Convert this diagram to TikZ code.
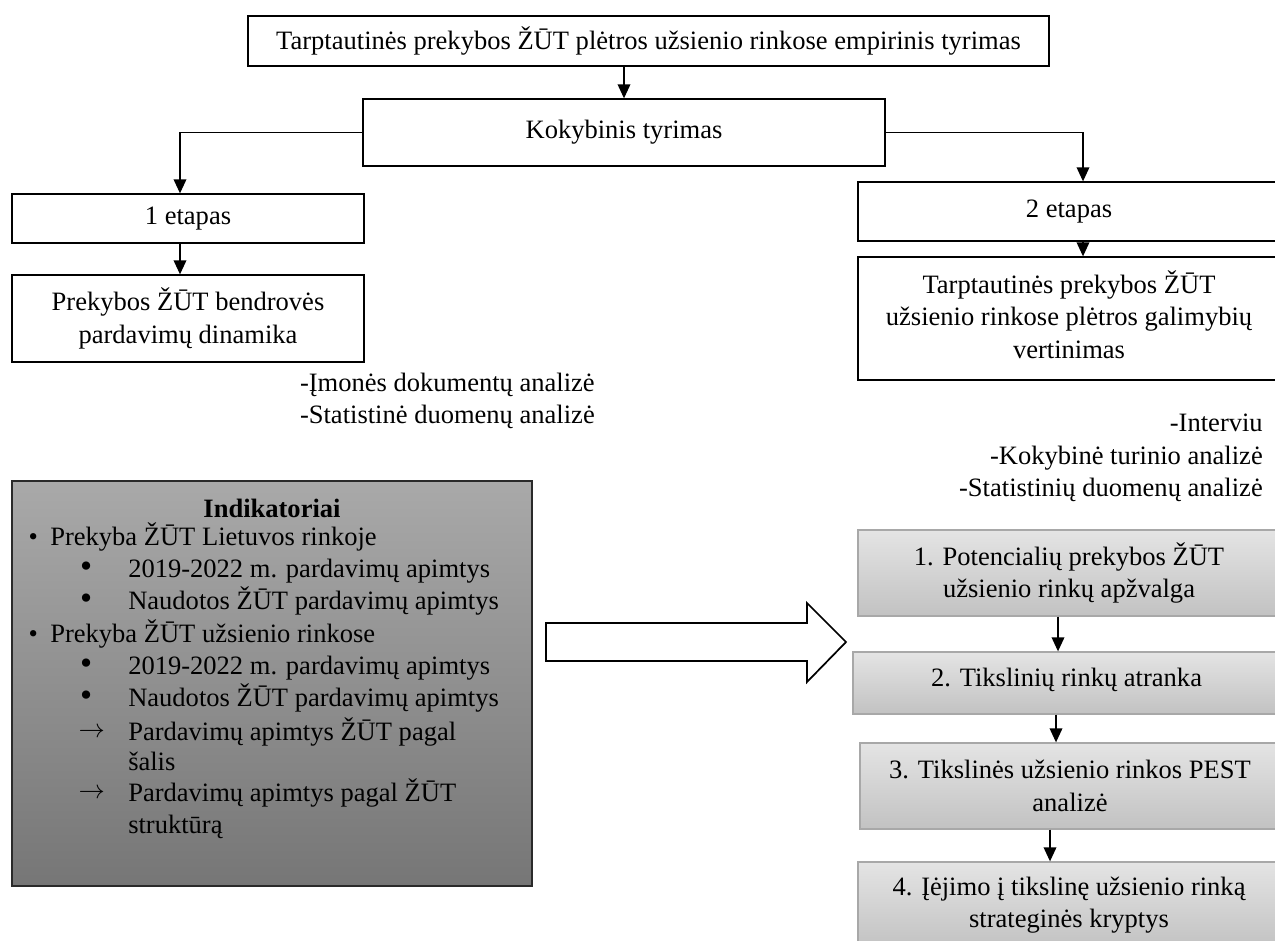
\documentclass[tikz,border=0pt]{standalone}
\usepackage{fontspec}
\setmainfont{Liberation Serif}
\usetikzlibrary{arrows.meta,fit}
\definecolor{lgtop}{HTML}{E4E4E4}
\definecolor{lgbot}{HTML}{C2C2C2}
\definecolor{lgline}{HTML}{A8A8A8}
\definecolor{dgtop}{HTML}{A9A9A9}
\definecolor{dgbot}{HTML}{767676}
\definecolor{dgline}{HTML}{2A2A2A}
\tikzset{
  txt/.style={font=\fontsize{19.9pt}{24.3pt}\selectfont, inner sep=0pt},
  ctxt/.style={txt, align=center},
  plainbox/.style={draw=black, line width=1pt, fill=white, inner sep=0pt},
  lightbox/.style={draw=lgline, line width=1pt, top color=lgtop, bottom color=lgbot, inner sep=0pt},
  darkbox/.style={draw=dgline, line width=1.5pt, top color=dgtop, bottom color=dgbot, inner sep=0pt},
  arr/.style={line width=1pt, -{Triangle[length=10.5pt,width=9.5pt]}},
  bigarrow/.style={draw=black, line width=1.3pt, fill=white, line join=miter},
  dtxt/.style={txt, anchor=mid west}
}
\newcommand{\blt}{\llap{\raisebox{-0.5pt}{\scalebox{1.3}{•}}\hspace{27pt}}}
\newcommand{\arw}{\llap{\raisebox{2pt}{\scalebox{0.95}{$\rightarrow$}}\hspace{17.5pt}}}
\begin{document}
\begin{tikzpicture}[x=0.75pt,y=-0.75pt]
\path[use as bounding box] (0,0) rectangle (1275,940);
\clip (0,0) rectangle (1275,940);

% top boxes
\node[plainbox, fit={(248,16) (1049,66)}] (top) {};
\node[ctxt] (topt) at (top.center) {Tarptautinės prekybos ŽŪT plėtros užsienio rinkose empirinis tyrimas};
\node[plainbox, fit={(363,99) (885,166)}] (kok) {};
\node[ctxt] (kokt) at (kok.center) {Kokybinis tyrimas};

% left branch
\node[plainbox, fit={(12,194) (364,243)}] (et1) {};
\node[ctxt] (et1t) at (et1.center) {1 etapas};
\node[plainbox, fit={(12,275) (364,362)}] (prek) {};
\node[ctxt] (prekt) at (prek.center) {Prekybos ŽŪT bendrovės\\pardavimų dinamika};
\node[txt, align=left, anchor=east] (llab) at (595,401) {-Įmonės dokumentų analizė\\-Statistinė duomenų analizė};

% right branch
\node[plainbox, fit={(858,182) (1280,241)}] (et2) {};
\node[ctxt] (et2t) at (et2.center) {2 etapas};
\node[plainbox, fit={(858,257) (1280,380)}] (tarp) {};
\node[ctxt] (tarpt) at ([yshift=3pt]tarp.center) {Tarptautinės prekybos ŽŪT\\užsienio rinkose plėtros galimybių\\vertinimas};
\node[txt, align=right, anchor=east] (rlab) at (1263,458) {-Interviu\\-Kokybinė turinio analizė\\-Statistinių duomenų analizė};

% right gray chain
\node[lightbox, fit={(858,530) (1280,616)}] (b1) {};
\node[ctxt] (b1t) at (b1.center) {1. Potencialių prekybos ŽŪT\\užsienio rinkų apžvalga};
\node[lightbox, fit={(853,652) (1280,714)}] (b2) {};
\node[ctxt] (b2t) at ([yshift=2pt]b2.center) {2. Tikslinių rinkų atranka};
\node[lightbox, fit={(860,743) (1280,829)}] (b3) {};
\node[ctxt] (b3t) at (b3.center) {3. Tikslinės užsienio rinkos PEST\\analizė};
\node[lightbox, fit={(858,862) (1280,948)}] (b4) {};
\node[ctxt] (b4t) at (1069,905) {4. Įėjimo į tikslinę užsienio rinką\\strateginės kryptys};

% dark indicator box
\node[darkbox, fit={(12,481) (532,886)}] (ind) {};
\node[txt, font=\fontsize{19.9pt}{24.3pt}\selectfont\bfseries] (i0) at (272,508) {Indikatoriai};
\node[dtxt] (i1) at (50,542) {\llap{•\hspace{9.3pt}}Prekyba ŽŪT Lietuvos rinkoje};
\node[dtxt] (i2) at (128,574) {\blt 2019-2022 m. pardavimų apimtys};
\node[dtxt] (i3) at (128,606) {\blt Naudotos ŽŪT pardavimų apimtys};
\node[dtxt] (i4) at (50,639) {\llap{•\hspace{9.3pt}}Prekyba ŽŪT užsienio rinkose};
\node[dtxt] (i5) at (128,671) {\blt 2019-2022 m. pardavimų apimtys};
\node[dtxt] (i6) at (128,703) {\blt Naudotos ŽŪT pardavimų apimtys};
\node[dtxt] (i7) at (128,737) {\arw Pardavimų apimtys ŽŪT pagal};
\node[dtxt] (i8) at (128,767) {šalis};
\node[dtxt] (i9) at (128,798) {\arw Pardavimų apimtys pagal ŽŪT};
\node[dtxt] (i10) at (128,830) {struktūrą};

% big block arrow
\draw[bigarrow] (546,623) -- (807,623) -- (807,603) -- (846,642) -- (807,682) -- (807,661) -- (546,661) -- cycle;

% connector x positions
\coordinate (xl) at (180,0);
\coordinate (xr) at (1083,0);
\coordinate (xa) at (1058,0);
\coordinate (xb) at (1056,0);
\coordinate (xc) at (1050,0);

% connectors
\draw[arr] (kok.north |- top.south) -- (kok.north);
\draw[arr] (kok.west) -| (et1.north -| xl);
\draw[arr] (et1.south -| xl) -- (prek.north -| xl);
\draw[arr] (kok.east) -| (et2.north -| xr);
\draw[arr] (et2.south -| xr) -- (tarp.north -| xr);
\draw[arr] (b1.south -| xa) -- (b2.north -| xa);
\draw[arr] (b2.south -| xb) -- (b3.north -| xb);
\draw[arr] (b3.south -| xc) -- (b4.north -| xc);
\end{tikzpicture}
\end{document}
